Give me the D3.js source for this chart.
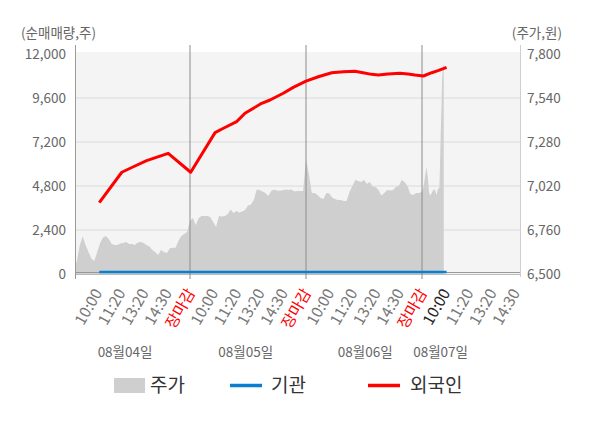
<!DOCTYPE html>
<html>
<head>
<meta charset="utf-8">
<script src="https://cdn.jsdelivr.net/npm/d3@7"></script>
<style>
    body { margin: 0; background: #fff; }
    svg { display: block; font-family: "Noto Sans CJK KR", "Noto Sans", sans-serif; }
</style>
</head>
<body>
<svg width="600" height="428"></svg>
<script>
// ---- data ----
const dayLabels = ["08월04일", "08월05일", "08월06일", "08월07일"];
const timeLabels = ["10:00", "11:20", "13:20", "14:30", "장마감"];
const lastDayTimeLabels = ["10:00", "11:20", "13:20", "14:30"];

const volumeTicks = [0, 2400, 4800, 7200, 9600, 12000];
const priceTicks = [6500, 6760, 7020, 7280, 7540, 7800];

// 주가, one value every 1/8 of a tick slot (days 1-3), 1/16 on day 4
const priceStep = 0.125;
const priceDay1 = [
    6524, 6577, 6671, 6722, 6671, 6630, 6592, 6577,
    6630, 6683, 6716, 6725, 6707, 6677, 6671, 6671,
    6680, 6683, 6689, 6677, 6677, 6671, 6686, 6689,
    6683, 6671, 6662, 6642, 6630, 6612, 6642, 6630,
    6624, 6651, 6655, 6655, 6695, 6725, 6736, 6748
];
const priceDay2 = [
    6815, 6831, 6790, 6831, 6843, 6843, 6843, 6837,
    6807, 6778, 6843, 6840, 6843, 6855, 6881, 6860,
    6872, 6863, 6869, 6878, 6905, 6911, 6937, 6999,
    6996, 6987, 6979, 6961, 6990, 7000, 6993, 6992,
    6995, 6999, 6996, 7000, 6987, 6990, 6990, 6990
];
const priceDay3 = [
    7175, 7090, 6979, 6979, 6967, 6949, 6943, 6979,
    6976, 6952, 6943, 6937, 6937, 6931, 6931, 6985,
    7020, 7055, 7050, 7044, 7055, 7032, 7044, 7016,
    7014, 6996, 6964, 6979, 6996, 6993, 6996, 7014,
    7020, 7055, 7044, 7020, 6973, 6967, 6979, 6979
];
const priceDay4Step = 0.0625;
const priceDay4 = [
    6986, 7016, 7067, 7132, 7073, 6973, 6967, 6985,
    6999, 6996, 6967, 7002, 7008, 7350, 7676, 7753
];

// 외국인 / 기관 net volume, at tick-slot positions
const netSlots = [
    1.09, 2.06, 2.56, 3.13, 4.06, 5.03, 6.08, 6.44, 7.01, 7.37,
    8.09, 8.45, 9.02, 9.45, 10.0, 10.53, 11.11, 11.61, 12.11, 12.46,
    12.83, 13.12, 13.53, 14.05, 14.4, 14.7, 15.06, 15.42, 15.69, 16.06
];
const foreignNet = [
    3890, 5550, 5850, 6180, 6580, 5550, 7710, 7950, 8310, 8770,
    9310, 9490, 9860, 10180, 10520, 10760, 10980, 11035, 11060, 10980,
    10890, 10855, 10910, 10950, 10910, 10855, 10800, 10980, 11090, 11275
];
const institutionNet = [
    0, 0, 0, 0, 0, 0, 0, 0, 0, 0,
    0, 0, 0, 0, 0, 0, 0, 0, 0, 0,
    0, 0, 0, 0, 0, 0, 0, 0, 0, 0
];

// ---- layout ----
const plot = { left: 76, right: 520, top: 52, bottom: 274 };
const slotsPerDay = 5;
const svg = d3.select("svg");

const x = d3.scaleLinear().domain([0, 19]).range([74, 514.8]);
const yVol = d3.scaleLinear().domain([0, 12000]).range([plot.bottom, 54]);
const yPrice = d3.scaleLinear().domain([6500, 7800]).range([plot.bottom, 54]);

const pricePoints = [
    ...priceDay1.map((v, i) => ({ s: i * priceStep, v })),
    ...priceDay2.map((v, i) => ({ s: slotsPerDay + i * priceStep, v })),
    ...priceDay3.map((v, i) => ({ s: 2 * slotsPerDay + i * priceStep, v })),
    ...priceDay4.map((v, i) => ({ s: 3 * slotsPerDay + i * priceDay4Step, v }))
];

const ticks = dayLabels.flatMap((day, d) =>
    (d < 3 ? timeLabels : lastDayTimeLabels).map((label, i) => ({
        s: d * slotsPerDay + i + 1,
        label,
        color: label === "장마감" ? "#ff0000" : (d === 3 && i === 0 ? "#222" : "#777")
    }))
);

svg.append("defs").append("clipPath").attr("id", "plotClip")
    .append("rect")
    .attr("x", plot.left).attr("y", plot.top)
    .attr("width", plot.right - plot.left).attr("height", plot.bottom - plot.top);

// background
svg.append("rect")
    .attr("x", plot.left).attr("y", plot.top)
    .attr("width", plot.right - plot.left).attr("height", plot.bottom - plot.top)
    .attr("fill", "#f4f4f4");

// grid
svg.append("g")
    .selectAll("line")
    .data(volumeTicks.filter(t => t > 0 && t < 12000))
    .join("line")
    .attr("x1", plot.left).attr("x2", plot.right)
    .attr("y1", d => yVol(d)).attr("y2", d => yVol(d))
    .attr("stroke", "#dadada")
    .attr("stroke-width", 1.2);

// price area
svg.append("path")
    .datum(pricePoints)
    .attr("clip-path", "url(#plotClip)")
    .attr("fill", "#cfcfcf")
    .attr("d", d3.area()
        .x(d => x(d.s))
        .y0(yPrice(6500))
        .y1(d => yPrice(d.v)));

// baseline lines
svg.append("line")
    .attr("x1", plot.left).attr("x2", plot.right)
    .attr("y1", yVol(0) - 1.5).attr("y2", yVol(0) - 1.5)
    .attr("stroke", "#999").attr("stroke-width", 1);
svg.append("line")
    .attr("x1", plot.left).attr("x2", plot.right)
    .attr("y1", plot.bottom + 0.5).attr("y2", plot.bottom + 0.5)
    .attr("stroke", "#bbb").attr("stroke-width", 1);

// day separators and axis lines
svg.append("g")
    .selectAll("line")
    .data([1, 2, 3])
    .join("line")
    .attr("x1", d => x(d * slotsPerDay)).attr("x2", d => x(d * slotsPerDay))
    .attr("y1", 45).attr("y2", 279)
    .attr("stroke", "#8c8c8c").attr("stroke-width", 1);

svg.append("line")
    .attr("x1", plot.left - 0.5).attr("x2", plot.left - 0.5)
    .attr("y1", 45).attr("y2", 279)
    .attr("stroke", "#999");
svg.append("line")
    .attr("x1", plot.right + 0.5).attr("x2", plot.right + 0.5)
    .attr("y1", 45).attr("y2", 277)
    .attr("stroke", "#cfcfcf");

// 기관
svg.append("path")
    .datum(netSlots.map((s, i) => ({ s, v: institutionNet[i] })))
    .attr("fill", "none")
    .attr("stroke", "#0a7fcf")
    .attr("stroke-width", 2.5)
    .attr("transform", "translate(0,-2)")
    .attr("d", d3.line().x(d => x(d.s)).y(d => yVol(d.v)));

// 외국인
svg.append("path")
    .datum(netSlots.map((s, i) => ({ s, v: foreignNet[i] })))
    .attr("fill", "none")
    .attr("stroke", "#ff0000")
    .attr("stroke-width", 3)
    .attr("stroke-linejoin", "round")
    .attr("d", d3.line().x(d => x(d.s)).y(d => yVol(d.v)));

// y axes
const leftAxis = svg.append("g")
    .attr("transform", `translate(${plot.left},0)`)
    .call(d3.axisLeft(yVol).tickValues(volumeTicks).tickSize(0).tickPadding(10).tickFormat(d3.format(",")));
const rightAxis = svg.append("g")
    .attr("transform", `translate(${plot.right},0)`)
    .call(d3.axisRight(yPrice).tickValues(priceTicks).tickSize(0).tickPadding(7).tickFormat(d3.format(",")));
[leftAxis, rightAxis].forEach(g => {
    g.select(".domain").remove();
    g.selectAll("text")
        .attr("fill", "#666")
        .style("font-size", "13.5px")
        .style("font-family", "\"Noto Sans CJK KR\", \"Noto Sans\", sans-serif");
});

// axis titles
svg.append("text")
    .attr("x", 21).attr("y", 38)
    .attr("fill", "#666").style("font-size", "13.5px")
    .text("(순매매량,주)");
svg.append("text")
    .attr("x", 562).attr("y", 38)
    .attr("text-anchor", "end")
    .attr("fill", "#666").style("font-size", "13.5px")
    .text("(주가,원)");

// x tick labels
svg.append("g")
    .selectAll("text")
    .data(ticks)
    .join("text")
    .attr("transform", d => `translate(${x(d.s) + 1},290) rotate(-60)`)
    .attr("text-anchor", "end")
    .attr("dy", "0.35em")
    .attr("fill", d => d.color)
    .style("font-size", "15.5px")
    .text(d => d.label);

// date labels
const dateLabelSlot = [2.2, 7.4, 12.55, 15.8];
svg.append("g")
    .selectAll("text")
    .data(dayLabels)
    .join("text")
    .attr("x", (d, i) => x(dateLabelSlot[i]))
    .attr("y", 357)
    .attr("text-anchor", "middle")
    .attr("fill", "#666")
    .style("font-size", "13.5px")
    .text(d => d);

// legend
const legend = svg.append("g").style("font-size", "19px").attr("fill", "#333");
legend.append("rect").attr("x", 114).attr("y", 378).attr("width", 31).attr("height", 15).attr("fill", "#cfcfcf");
legend.append("text").attr("x", 150).attr("y", 392).text("주가");
legend.append("line").attr("x1", 230).attr("x2", 262).attr("y1", 385.5).attr("y2", 385.5)
    .attr("stroke", "#0a7fcf").attr("stroke-width", 3.5);
legend.append("text").attr("x", 271).attr("y", 392).text("기관");
legend.append("line").attr("x1", 368).attr("x2", 400).attr("y1", 385.5).attr("y2", 385.5)
    .attr("stroke", "#ff0000").attr("stroke-width", 3.5);
legend.append("text").attr("x", 410).attr("y", 392).text("외국인");
</script>
</body>
</html>
